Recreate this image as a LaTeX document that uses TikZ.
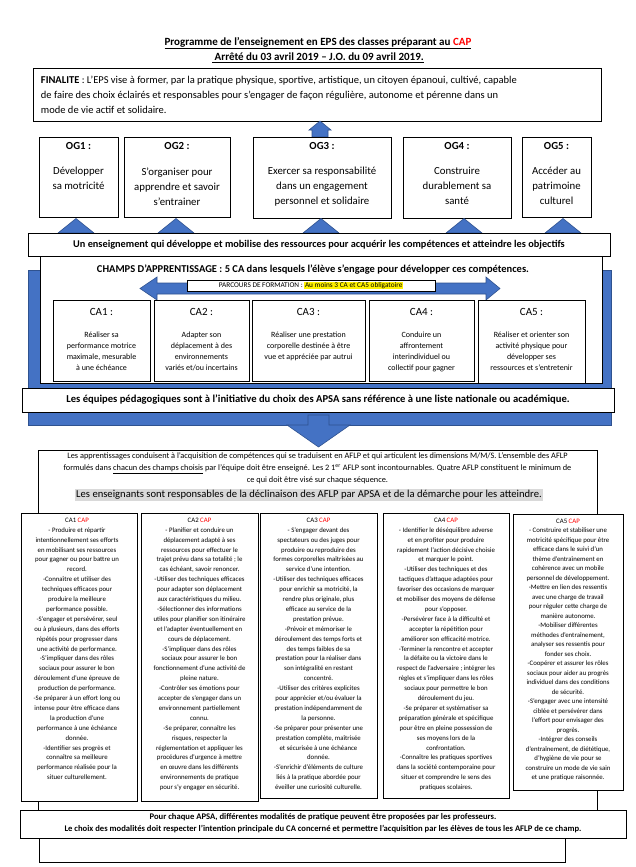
\documentclass[tikz,border=0pt]{standalone}
\usepackage{fontspec}
\setmainfont{Carlito}
\usepackage{xcolor}
\usetikzlibrary{calc}
\definecolor{bleuOG}{HTML}{4472C4}
\definecolor{bleuTrait}{HTML}{2F528F}
\definecolor{grisFond}{HTML}{D9D9D9}
\newcommand{\taille}[2]{\fontsize{#1}{#2}\selectfont}
\newcommand{\rcap}{\textcolor{red}{CAP}}
\setlength{\fboxsep}{0.6pt}

\begin{document}
\begin{tikzpicture}[x=1pt,y=1pt,yscale=-1,
  cadre/.style={draw,line width=0.9pt,fill=white},
  fleche/.style={fill=bleuOG,draw=bleuTrait,line width=0.6pt},
  txt/.style={inner sep=0.75pt},
  titreOG/.style={txt,font=\taille{10.8}{13}\bfseries},
  texteOG/.style={txt,anchor=north,align=center,font=\taille{10.8}{15}},
  titreCA/.style={txt,font=\taille{11}{13}},
  texteCA/.style={txt,anchor=north,align=center,font=\taille{8}{11}},
  colonne/.style={txt,anchor=north,align=center,font=\taille{6.8}{9.9}}]
\path [use as bounding box] (0,0) rectangle (635,867);

% Text Node
\draw (318,43) node (titre1) [txt,font=\taille{11}{13}\bfseries] {\underline{Programme de l’enseignement en EPS des classes préparant au \rcap}};
% Text Node
\draw (318,58) node (titre2) [txt,font=\taille{11}{13}\bfseries] {\underline{ Arrêté du 03 avril 2019 – J.O. du 09 avril 2019.}};

%Shape: Rectangle [finalite]
\draw [cadre] (33,68) -- (601,68) -- (601,121) -- (33,121) -- cycle ;
% Text Node
\draw (40,75.5) node (finalite) [txt,anchor=north west,align=left,font=\taille{10.5}{15}] {\textbf{FINALITE} : L’EPS vise à former, par la pratique physique, sportive, artistique, un citoyen épanoui, cultivé, capable\\de faire des choix éclairés et responsables pour s’engager de façon régulière, autonome et pérenne dans un\\mode de vie actif et solidaire.};

%Shape: Up Arrow
\draw [fleche] (320,121) -- (331,130) -- (328,130) -- (328,137) -- (312,137) -- (312,130) -- (309,130) -- cycle ;

%Shape: Rectangle [OG1..OG5]
\draw [cadre] (39,137) -- (118,137) -- (118,217) -- (39,217) -- cycle ;
\draw [cadre] (124,137) -- (230,137) -- (230,217) -- (124,217) -- cycle ;
\draw [cadre] (253,137) -- (391,137) -- (391,218) -- (253,218) -- cycle ;
\draw [cadre] (403,137) -- (511,137) -- (511,218) -- (403,218) -- cycle ;
\draw [cadre] (522,137) -- (591,137) -- (591,217) -- (522,217) -- cycle ;
% Text Node
\draw (78.5,146) node (og1t) [titreOG] {OG1 :};
\draw (78.5,166.5) node (og1) [texteOG] {Développer\\sa motricité};
% Text Node
\draw (177,146) node (og2t) [titreOG] {OG2 :};
\draw (177,166.5) node (og2) [texteOG] {S’organiser pour\\apprendre et savoir\\s’entrainer};
% Text Node
\draw (322,146) node (og3t) [titreOG] {OG3 :};
\draw (322,166.5) node (og3) [texteOG] {Exercer sa responsabilité\\dans un engagement\\personnel et solidaire};
% Text Node
\draw (457,146) node (og4t) [titreOG] {OG4 :};
\draw (457,166.5) node (og4) [texteOG] {Construire\\durablement sa\\santé};
% Text Node
\draw (556.5,146) node (og5t) [titreOG] {OG5 :};
\draw (556.5,166.5) node (og5) [texteOG] {Accéder au\\patrimoine\\culturel};

%Shape: Triangles
\draw [fleche] (58,233) -- (76,218.5) -- (94,233) -- cycle ;
\draw [fleche] (158,233) -- (176,218.5) -- (194,233) -- cycle ;
\draw [fleche] (303,233) -- (321,218.5) -- (339,233) -- cycle ;
\draw [fleche] (446,233) -- (464,218.5) -- (482,233) -- cycle ;
\draw [fleche] (545,233) -- (563,218.5) -- (581,233) -- cycle ;

%Shape: Rectangle [cadre bleu]
\draw [fleche] (28,270) -- (611,270) -- (611,425) -- (28,425) -- cycle ;
%Shape: Rectangle [champs]
\draw [cadre] (40,256) -- (602,256) -- (602,383) -- (40,383) -- cycle ;
%Shape: Rectangle [enseignement]
\draw [cadre] (28,233) -- (610,233) -- (610,256) -- (28,256) -- cycle ;
% Text Node
\draw (319,245) node (enseignement) [txt,font=\taille{10.3}{12}\bfseries] {Un enseignement qui développe et mobilise des ressources pour acquérir les compétences et atteindre les objectifs};
% Text Node
\draw (313,270) node (champs) [txt,font=\taille{10.5}{12}\bfseries] {CHAMPS D’APPRENTISSAGE : 5 CA dans lesquels l’élève s’engage pour développer ces compétences.};

%Shape: Left Right Arrow
\draw [fleche] (140,288.5) -- (157,277) -- (157,283) -- (486,283) -- (486,277) -- (500,288.5) -- (486,300) -- (486,294) -- (157,294) -- (157,300) -- cycle ;
%Shape: Rectangle [parcours]
\draw [cadre,line width=0.6pt] (187,280) -- (435,280) -- (435,291) -- (187,291) -- cycle ;
% Text Node
\draw (311,285.5) node (parcours) [txt,font=\taille{7.3}{8}] {PARCOURS DE FORMATION : \colorbox{yellow}{Au moins 3 CA et CA5 obligatoire}};

%Shape: Rectangle [CA1..CA5]
\draw [cadre] (53,300) -- (150,300) -- (150,381) -- (53,381) -- cycle ;
\draw [cadre] (154,300) -- (249,300) -- (249,381) -- (154,381) -- cycle ;
\draw [cadre] (252,300) -- (365,300) -- (365,381) -- (252,381) -- cycle ;
\draw [cadre] (369,300) -- (474,300) -- (474,381) -- (369,381) -- cycle ;
\draw [cadre] (478,300) -- (585,300) -- (585,383) -- (478,383) -- cycle ;
% Text Node
\draw (101.5,312) node (ca1t) [titreCA] {CA1 :};
\draw (101.5,330.5) node (ca1) [texteCA] {Réaliser sa\\performance motrice\\maximale, mesurable\\à une échéance};
% Text Node
\draw (201.5,312) node (ca2t) [titreCA] {CA2 :};
\draw (201.5,330.5) node (ca2) [texteCA] {Adapter son\\déplacement à des\\environnements\\variés et/ou incertains};
% Text Node
\draw (308.5,312) node (ca3t) [titreCA] {CA3 :};
\draw (308.5,330.5) node (ca3) [texteCA] {Réaliser une prestation\\corporelle destinée à être\\vue et appréciée par autrui};
% Text Node
\draw (421.5,312) node (ca4t) [titreCA] {CA4 :};
\draw (421.5,330.5) node (ca4) [texteCA] {Conduire un\\affrontement\\interindividuel ou\\collectif pour gagner};
% Text Node
\draw (531.5,312) node (ca5t) [titreCA] {CA5 :};
\draw (531.5,330.5) node (ca5) [texteCA] {Réaliser et orienter son\\activité physique pour\\développer ses\\ressources et s’entretenir};

%Shape: Rectangle [equipes]
\draw [cadre] (22,388) -- (614,388) -- (614,412) -- (22,412) -- cycle ;
% Text Node
\draw (318,400) node (equipes) [txt,font=\taille{10.6}{12}\bfseries] {Les équipes pédagogiques sont à l’initiative du choix des APSA sans référence à une liste nationale ou académique.};

%Shape: Down Arrow
\draw [fleche] (308,415) -- (329,415) -- (329,425) -- (350,425) -- (318.5,447) -- (287,425) -- (308,425) -- cycle ;

%Shape: Rectangle [aflp]
\draw [cadre] (38,450) -- (597,450) -- (597,820) -- (38,820) -- cycle ;
% Text Node
\draw (317.5,452) node (aflp) [txt,anchor=north,align=center,font=\taille{8.3}{12}] {Les apprentissages conduisent à l’acquisition de compétences qui se traduisent en AFLP et qui articulent les dimensions M/M/S. L’ensemble des AFLP\\formulés dans \underline{chacun des champs choisis} par l’équipe doit être enseigné. Les 2 1\textsuperscript{er} AFLP sont incontournables. Quatre AFLP constituent le minimum de\\ce qui doit être visé sur chaque séquence.};
% Text Node
\draw (309,495) node (enseignants) [txt,fill=grisFond,inner sep=1.5pt,font=\taille{10.6}{12}] {Les enseignants sont responsables de la déclinaison des AFLP par APSA et de la démarche pour les atteindre.};

%Shape: Rectangle [colonnes CA1..CA5]
\draw [cadre] (21,513) -- (137,513) -- (137,801) -- (21,801) -- cycle ;
\draw [cadre] (141,513) -- (258,513) -- (258,801) -- (141,801) -- cycle ;
\draw [cadre] (260,513) -- (377,513) -- (377,798) -- (260,798) -- cycle ;
\draw [cadre] (383,513) -- (509,513) -- (509,798) -- (383,798) -- cycle ;
\draw [cadre] (513,514) -- (623,514) -- (623,790) -- (513,790) -- cycle ;
% Text Node
\draw (77,517) node (col1) [colonne] {CA1 \rcap\\- Produire et répartir\\intentionnellement ses efforts\\en mobilisant ses ressources\\pour gagner ou pour battre un\\record.\\-Connaître et utiliser des\\techniques efficaces pour\\produire la meilleure\\performance possible.\\-S’engager et persévérer, seul\\ou à plusieurs, dans des efforts\\répétés pour progresser dans\\une activité de performance.\\-S’impliquer dans des rôles\\sociaux pour assurer le bon\\déroulement d’une épreuve de\\production de performance.\\-Se préparer à un effort long ou\\intense pour être efficace dans\\la production d’une\\performance à une échéance\\donnée.\\-Identifier ses progrès et\\connaître sa meilleure\\performance réalisée pour la\\situer culturellement.};
% Text Node
\draw (199.5,517) node (col2) [colonne] {CA2 \rcap\\- Planifier et conduire un\\déplacement adapté à ses\\ressources pour effectuer le\\trajet prévu dans sa totalité ; le\\cas échéant, savoir renoncer.\\-Utiliser des techniques efficaces\\pour adapter son déplacement\\aux caractéristiques du milieu.\\-Sélectionner des informations\\utiles pour planifier son itinéraire\\et l’adapter éventuellement en\\cours de déplacement.\\-S’impliquer dans des rôles\\sociaux pour assurer le bon\\fonctionnement d’une activité de\\pleine nature.\\-Contrôler ses émotions pour\\accepter de s’engager dans un\\environnement partiellement\\connu.\\-Se préparer, connaître les\\risques, respecter la\\réglementation et appliquer les\\procédures d’urgence à mettre\\en œuvre dans les différents\\environnements de pratique\\pour s’y engager en sécurité.};
% Text Node
\draw (318.5,517) node (col3) [colonne] {CA3 \rcap\\- S’engager devant des\\spectateurs ou des juges pour\\produire ou reproduire des\\formes corporelles maîtrisées au\\service d’une intention.\\-Utiliser des techniques efficaces\\pour enrichir sa motricité, la\\rendre plus originale, plus\\efficace au service de la\\prestation prévue.\\-Prévoir et mémoriser le\\déroulement des temps forts et\\des temps faibles de sa\\prestation pour la réaliser dans\\son intégralité en restant\\concentré.\\-Utiliser des critères explicites\\pour apprécier et/ou évaluer la\\prestation indépendamment de\\la personne.\\-Se préparer pour présenter une\\prestation complète, maîtrisée\\et sécurisée à une échéance\\donnée.\\-S’enrichir d’éléments de culture\\liés à la pratique abordée pour\\éveiller une curiosité culturelle.};
% Text Node
\draw (446,517) node (col4) [colonne] {CA4 \rcap\\- Identifier le déséquilibre adverse\\et en profiter pour produire\\rapidement l’action décisive choisie\\et marquer le point.\\-Utiliser des techniques et des\\tactiques d’attaque adaptées pour\\favoriser des occasions de marquer\\et mobiliser des moyens de défense\\pour s’opposer.\\-Persévérer face à la difficulté et\\accepter la répétition pour\\améliorer son efficacité motrice.\\-Terminer la rencontre et accepter\\la défaite ou la victoire dans le\\respect de l’adversaire ; intégrer les\\règles et s’impliquer dans les rôles\\sociaux pour permettre le bon\\déroulement du jeu.\\-Se préparer et systématiser sa\\préparation générale et spécifique\\pour être en pleine possession de\\ses moyens lors de la\\confrontation.\\-Connaître les pratiques sportives\\dans la société contemporaine pour\\situer et comprendre le sens des\\pratiques scolaires.};
% Text Node
\draw (568,518) node (col5) [colonne,font=\taille{6.8}{9.5}] {CA5 \rcap\\- Construire et stabiliser une\\motricité spécifique pour être\\efficace dans le suivi d’un\\thème d’entraînement en\\cohérence avec un mobile\\personnel de développement.\\-Mettre en lien des ressentis\\avec une charge de travail\\pour réguler cette charge de\\manière autonome.\\-Mobiliser différentes\\méthodes d’entraînement,\\analyser ses ressentis pour\\fonder ses choix.\\-Coopérer et assurer les rôles\\sociaux pour aider au progrès\\individuel dans des conditions\\de sécurité.\\-S’engager avec une intensité\\ciblée et persévérer dans\\l’effort pour envisager des\\progrès.\\-Intégrer des conseils\\d’entraînement, de diététique,\\d’hygiène de vie pour se\\construire un mode de vie sain\\et une pratique raisonnée.};

%Shape: Rectangle [modalites]
\draw [cadre] (20,810) -- (626,810) -- (626,838) -- (20,838) -- cycle ;
% Text Node
\draw (323,812.5) node (modalites) [txt,anchor=north,align=center,font=\taille{8.6}{11.5}\bfseries] {Pour chaque APSA, différentes modalités de pratique peuvent être proposées par les professeurs.\\Le choix des modalités doit  respecter l’intention principale du CA concerné et permettre l’acquisition par les élèves de tous les AFLP de ce champ.};
%Shape: Rectangle [bas]
\draw [line width=0.9pt] (39,838) -- (39,862) -- (565,862) -- (565,838) ;
\end{tikzpicture}
\end{document}
